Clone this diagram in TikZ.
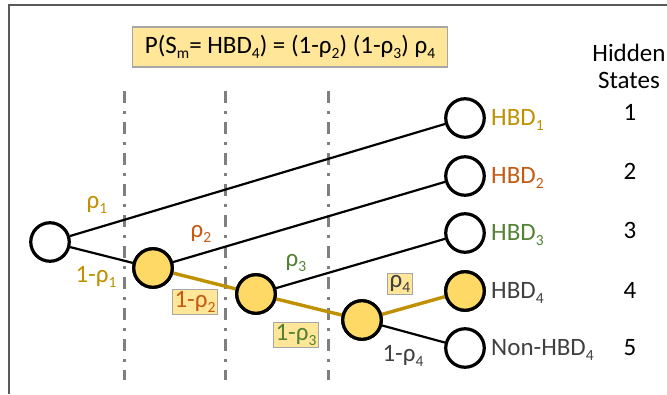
\documentclass[tikz,border=0pt]{standalone}
\usepackage{fontspec}
\setmainfont{Carlito}
\newcommand{\lo}[1]{\raisebox{-0.45ex}{\fontsize{15.5}{15.5}\selectfont #1}}
\definecolor{goldtxt}{HTML}{BF9000}
\definecolor{orangetxt}{HTML}{C55A11}
\definecolor{greentxt}{HTML}{548235}
\definecolor{graytxt}{HTML}{404040}
\definecolor{nodefill}{HTML}{FFD966}
\definecolor{boxfill}{HTML}{FFE699}
\definecolor{boxline}{HTML}{A6A6A6}
\definecolor{pathgold}{HTML}{BF9000}
\definecolor{sepline}{HTML}{7F7F7F}
\definecolor{framegray}{HTML}{595959}
\tikzset{
  txt/.style={font=\fontsize{25}{27}\selectfont, inner sep=1pt},
  state/.style={circle, draw=black, line width=3.2pt, minimum size=38.5pt, inner sep=0pt, fill=white},
  onpath/.style={state, fill=nodefill},
  edge/.style={draw=black, line width=2.2pt},
  chosen/.style={draw=pathgold, line width=3.4pt},
  tagbox/.style={txt, fill=boxfill, draw=boxline, line width=1.3pt, inner sep=2pt},
  sep/.style={draw=sepline, line width=3pt, dash pattern=on 12pt off 8pt on 3pt off 8pt},
}
\begin{document}
\begin{tikzpicture}[x=1pt,y=-1pt]
\useasboundingbox (0,0) rectangle (667,394);
% frame (top and left rules)
\draw[framegray, line width=2pt] (9,394) -- (9,5) -- (667,5);

% separators between generations
\foreach \xx/\nm in {124/a,225/b,328/c}{
  \coordinate (top\nm) at (\xx,91);
  \coordinate (bot\nm) at (\xx,380);
  \draw[sep] (top\nm) -- (bot\nm);
}

% formula
\node[tagbox, minimum width=315pt, minimum height=40pt] (formula) at (290,47)
  {P(S\lo{m}= HBD\lo{4}) = (1-ρ\lo{2}) (1-ρ\lo{3}) ρ\lo{4}};

% header
\node[txt, align=center] (hdr) at (629,66) {Hidden\\[0pt]States};

% tree nodes
\node[state] (root) at (50,242) {};
\node[onpath] (n1) at (153,268) {};
\node[onpath] (n2) at (256,294) {};
\node[onpath] (n3) at (362,320) {};
\node[state] (h1) at (465,118) {};
\node[state] (h2) at (465,176) {};
\node[state] (h3) at (465,233) {};
\node[onpath] (h4) at (465,291) {};
\node[state] (h5) at (465,348) {};

% edges
\draw[edge] (root) -- (h1);
\draw[edge] (root) -- (n1);
\draw[edge] (n1) -- (h2);
\draw[chosen] (n1) -- (n2);
\draw[edge] (n2) -- (h3);
\draw[chosen] (n2) -- (n3);
\draw[chosen] (n3) -- (h4);
\draw[edge] (n3) -- (h5);
% redraw path nodes above the lines
\foreach \n in {n1,n2,n3,h4}{\node[onpath] at (\n) {};}

% leaf labels
\node[txt, anchor=west, text=goldtxt] (l1) at (490,120) {HBD\lo{1}};
\node[txt, anchor=west, text=orangetxt] (l2) at (490,178) {HBD\lo{2}};
\node[txt, anchor=west, text=greentxt] (l3) at (490,235) {HBD\lo{3}};
\node[txt, anchor=west, text=graytxt] (l4) at (490,293) {HBD\lo{4}};
\node[txt, anchor=west, text=graytxt] (l5) at (490,350) {Non-HBD\lo{4}};

% state numbers
\foreach \k/\yy in {1/112,2/171,3/230,4/290,5/348}{
  \node[txt] (num\k) at (630,\yy) {\k};
}

% edge labels
\node[txt, text=goldtxt] (r1) at (97,205) {ρ\lo{1}};
\node[txt, text=goldtxt] (q1) at (96,277) {1-ρ\lo{1}};
\node[txt, text=orangetxt] (r2) at (201,234) {ρ\lo{2}};
\node[tagbox, text=orangetxt] (q2) at (195,302) {1-ρ\lo{2}};
\node[txt, text=greentxt] (r3) at (296,263) {ρ\lo{3}};
\node[tagbox, text=greentxt] (q3) at (296,335) {1-ρ\lo{3}};
\node[tagbox, text=graytxt] (r4) at (400,284) {ρ\lo{4}};
\node[txt, text=graytxt] (q4) at (403,356) {1-ρ\lo{4}};
\end{tikzpicture}
\end{document}
